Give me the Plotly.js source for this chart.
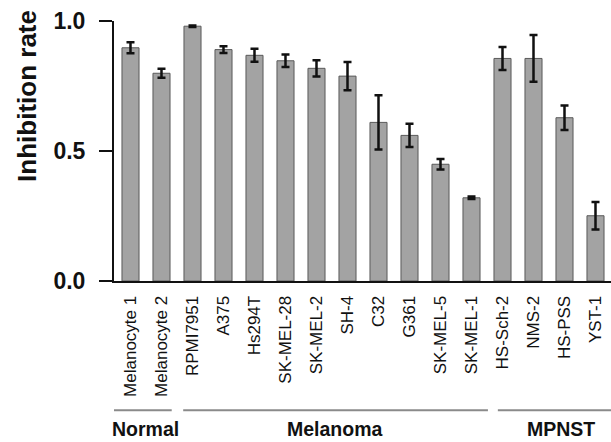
<!DOCTYPE html>
<html>
<head>
<meta charset="utf-8">
<script src="https://cdn.plot.ly/plotly-3.0.1.min.js"></script>
<style>html,body{margin:0;padding:0;background:#fff;}#chart{width:611px;height:442px;}</style>
</head>
<body>
<div id="chart"></div>
<script>
const cellLines = ["Melanocyte 1","Melanocyte 2","RPMI7951","A375","Hs294T","SK-MEL-28","SK-MEL-2","SH-4","C32","G361","SK-MEL-5","SK-MEL-1","HS-Sch-2","NMS-2","HS-PSS","YST-1"];
const inhibitionRate = [0.897,0.799,0.980,0.890,0.868,0.847,0.818,0.788,0.610,0.560,0.449,0.320,0.856,0.856,0.628,0.251];
const errorSD = [0.021,0.017,0.003,0.013,0.025,0.024,0.031,0.054,0.104,0.045,0.020,0.005,0.044,0.090,0.047,0.053];
const groupNames = ["Normal","Melanoma","MPNST"];
const groupStart = [-0.57, 1.70, 11.85];
const groupEnd = [1.33, 11.53, 15.6];
const groupLabelX = [0.47, 6.6, 13.9];
const yTickVals = [0, 0.5, 1.0];
const yTickText = ["0.0", "0.5", "1.0"];

const font = "'Liberation Sans', Arial, sans-serif";

const trace = {
  type: "bar",
  x: cellLines,
  y: inhibitionRate,
  width: 0.55,
  marker: {color: "#a3a3a3", line: {color: "#5a5a5a", width: 1}},
  error_y: {type: "data", array: errorSD, visible: true, color: "#111", thickness: 2.5, width: 4}
};

const shapes = groupNames.map((g, i) => ({
  type: "line", xref: "x", yref: "paper",
  x0: groupStart[i], x1: groupEnd[i], y0: -0.497, y1: -0.497,
  line: {color: "#8a8a8a", width: 2}
}));
const annotations = groupNames.map((g, i) => ({
  text: g, xref: "x", yref: "paper", x: groupLabelX[i], y: -0.57,
  showarrow: false, xanchor: "center", yanchor: "middle",
  font: {family: font, size: 19.5, color: "#111", weight: "bold"}
}));
annotations.push({
  text: "Inhibition rate", xref: "paper", yref: "paper", x: -0.175, y: 0.712,
  showarrow: false, textangle: -90, xanchor: "center", yanchor: "middle",
  font: {family: font, size: 26, color: "#111", weight: "bold"}
});

const layout = {
  width: 611, height: 442,
  margin: {l: 114, r: 0, t: 21, b: 161},
  paper_bgcolor: "#fff", plot_bgcolor: "#fff",
  showlegend: false,
  xaxis: {
    type: "category",
    range: [-0.532, 15.5],
    showline: true, linecolor: "#111", linewidth: 2,
    ticks: "outside", ticklen: 6, tickcolor: "rgba(0,0,0,0)",
    tickangle: -90,
    tickfont: {family: font, size: 17, color: "#111"},
    showgrid: false, zeroline: false, fixedrange: true
  },
  yaxis: {
    range: [0, 1.0],
    tickvals: yTickVals,
    ticktext: yTickText,
    showline: true, linecolor: "#111", linewidth: 2,
    ticks: "outside", ticklen: 13, tickwidth: 2, tickcolor: "#111",
    ticklabelstandoff: 9,
    tickfont: {family: font, size: 23, color: "#111", weight: "bold"},
    showgrid: false, zeroline: false
  },
  shapes: shapes,
  annotations: annotations
};

Plotly.newPlot("chart", [trace], layout, {displayModeBar: false, staticPlot: true});
</script>
</body>
</html>
